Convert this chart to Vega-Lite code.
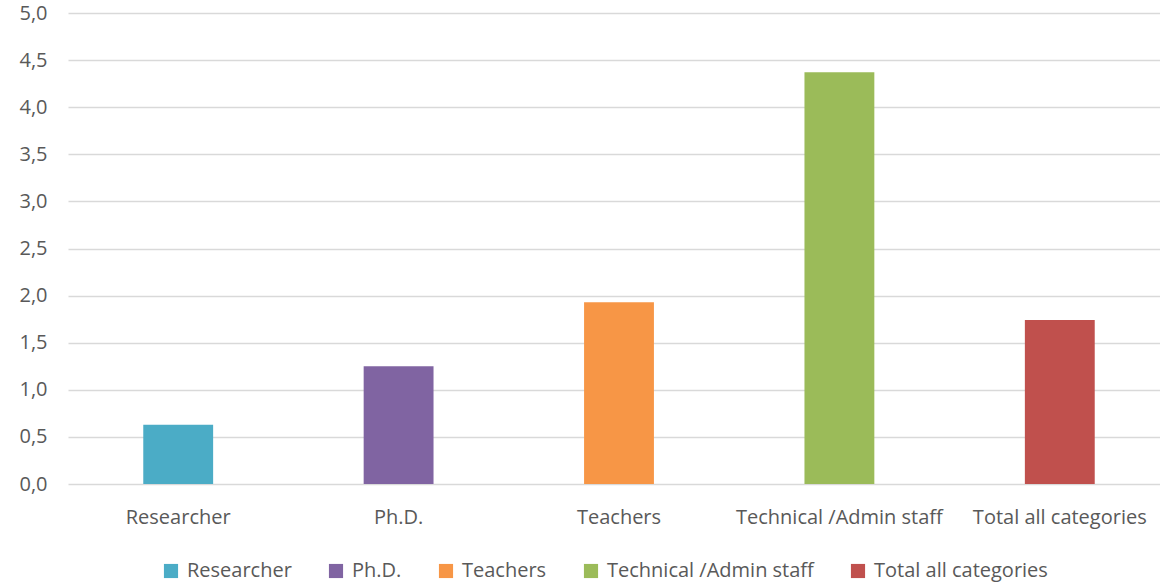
{
  "$schema": "https://vega.github.io/schema/vega-lite/v6.json",
  "width": 1102,
  "height": 471,
  "autosize": "none",
  "padding": {"left": 68, "top": 13, "right": -10, "bottom": 99},
  "background": "white",
  "data": {
    "values": [
      {"category": "Researcher", "value": 0.63},
      {"category": "Ph.D.", "value": 1.25},
      {"category": "Teachers", "value": 1.93},
      {"category": "Technical /Admin staff", "value": 4.37},
      {"category": "Total all categories", "value": 1.74}
    ]
  },
  "mark": {"type": "bar"},
  "encoding": {
    "x": {
      "field": "category",
      "type": "nominal",
      "sort": null,
      "title": null,
      "scale": {"paddingInner": 0.683, "paddingOuter": 0.3415},
      "axis": {
        "labelAngle": 0,
        "domain": false,
        "ticks": false,
        "labelFont": "Open Sans",
        "labelFontSize": 20,
        "labelColor": "#595959",
        "labelPadding": 23,
        "labelLimit": 400,
        "grid": false
      }
    },
    "y": {
      "field": "value",
      "type": "quantitative",
      "title": null,
      "scale": {"domain": [0, 5], "nice": false},
      "axis": {
        "values": [0, 0.5, 1, 1.5, 2, 2.5, 3, 3.5, 4, 4.5, 5],
        "labelExpr": "replace(format(datum.value, '.1f'), '.', ',')",
        "domain": false,
        "ticks": false,
        "grid": true,
        "gridColor": "#d9d9d9",
        "gridWidth": 1.5,
        "labelFont": "Open Sans",
        "labelFontSize": 20,
        "labelColor": "#595959",
        "labelPadding": 21
      }
    },
    "color": {
      "field": "category",
      "type": "nominal",
      "sort": null,
      "scale": {
        "domain": ["Researcher", "Ph.D.", "Teachers", "Technical /Admin staff", "Total all categories"],
        "range": ["#4BACC6", "#8064A2", "#F79646", "#9BBB59", "#C0504D"]
      },
      "legend": {
        "title": null,
        "orient": "none",
        "legendX": 93,
        "legendY": 548,
        "direction": "horizontal",
        "symbolType": "square",
        "symbolSize": 200,
        "symbolStrokeWidth": 0,
        "labelFont": "Open Sans",
        "labelFontSize": 20,
        "labelColor": "#595959",
        "columnPadding": 34,
        "labelOffset": 6,
        "labelLimit": 400
      }
    }
  },
  "config": {
    "view": {"stroke": null}
  }
}
